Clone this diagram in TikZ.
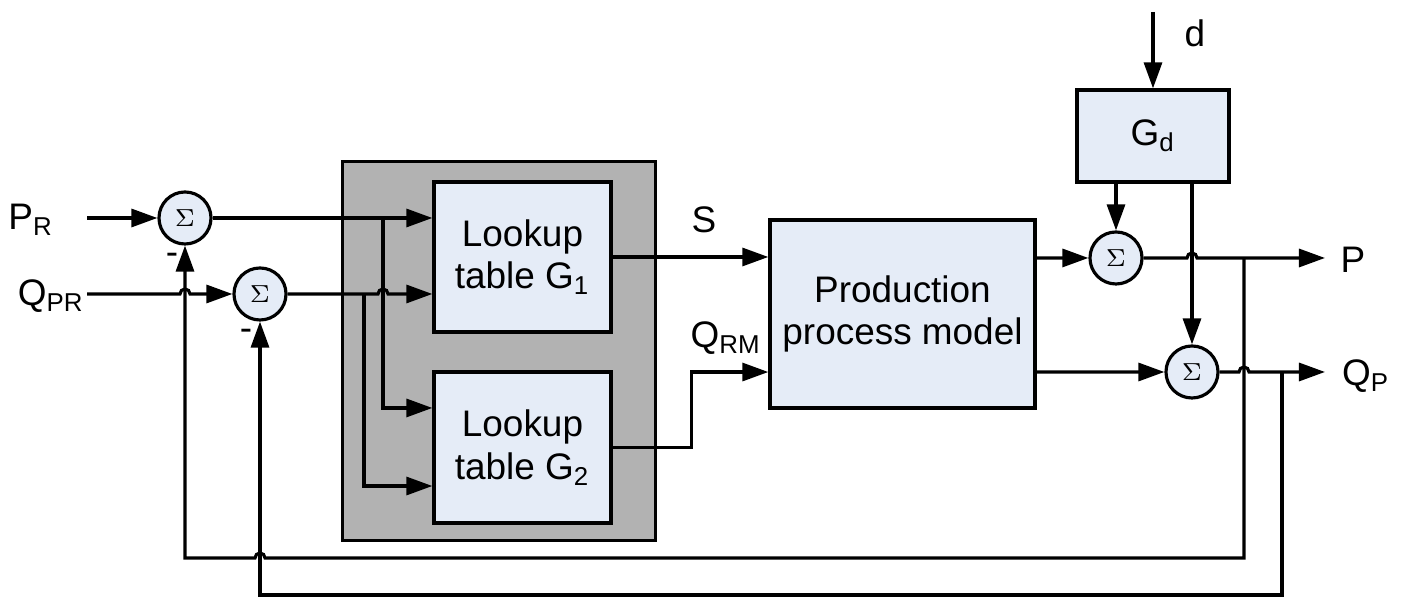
\documentclass[tikz,border=0pt]{standalone}
\usepackage{fontspec}
\setmainfont{Liberation Sans}
\usetikzlibrary{arrows.meta}
\usetikzlibrary{positioning}

\definecolor{blockfill}{RGB}{229,236,247}
\definecolor{shadefill}{RGB}{178,178,178}

\begin{document}
\begin{tikzpicture}[x=0.01cm,y=-0.01cm,line width=0.9pt,
    block/.style={draw,fill=blockfill,align=center,inner sep=0pt},
    sumnode/.style={circle,draw,fill=blockfill,minimum size=0.52cm,inner sep=0pt,font=\fontsize{7}{8}\selectfont},
    flow/.style={-{Triangle[length=0.26cm,width=0.18cm]}},
    lbl/.style={inner sep=0pt},
    font=\fontsize{10.5}{12.2}\selectfont]
    \useasboundingbox (0,0) rectangle (1402,598);

    % draws blocks
    \node[draw,fill=shadefill,minimum width=3.12cm,minimum height=3.78cm] (lut) at (499,351) {};
    \node[block,minimum width=1.77cm,minimum height=1.50cm] (g1) at (522.5,257) {Lookup\\table G\textsubscript{1}};
    \node[block,minimum width=1.77cm,minimum height=1.51cm] (g2) at (522.5,447.5) {Lookup\\table G\textsubscript{2}};
    \node[block,minimum width=2.65cm,minimum height=1.88cm] (prod) at (902.5,314) {Production\\process model};
    \node[block,minimum width=1.52cm,minimum height=0.92cm] (gd) at (1153,136) {G\textsubscript{d}};

    % draws summing junctions
    \node[sumnode] (s1) at (185,218) {$\Sigma$};
    \node[sumnode] (s2) at (260,294) {$\Sigma$};
    \node[sumnode] (s3) at (1116,258) {$\Sigma$};
    \node[sumnode] (s4) at (1192,372) {$\Sigma$};

    % free ends
    \coordinate (pin) at (87,218);
    \coordinate (qin) at (87,294);
    \coordinate (din) at (1153,12);
    \coordinate (pout) at (1325,258);
    \coordinate (qout) at (1325,372);

    % draws connectors
    \draw[flow] (pin) -- (s1);
    \draw[flow] (qin) -- (180,294) arc[start angle=180,end angle=360,radius=5] -- (s2);
    \draw[flow] (s1.east) -- (s1.east -| g1.west);
    \draw[flow] (383,218) |- ([yshift=0.395cm]g2.west);
    \draw[flow] (s2.east) -- (378,294) arc[start angle=180,end angle=360,radius=5] -- (s2.east -| g1.west);
    \draw[flow] (364,294) |- ([yshift=-0.385cm]g2.west);
    \draw[flow] (g1.east) -- (g1.east -| prod.west);
    \draw[flow] (g2.east) -- ++(79,0) |- ([yshift=-0.58cm]prod.west);
    \draw[flow] ([yshift=0.56cm]prod.east) -- (s3);
    \draw[flow] ([yshift=-0.58cm]prod.east) -- (s4);
    \draw[flow] (din) -- (gd.north);
    \draw[flow] (gd.south -| s3.north) -- (s3.north);
    \draw[flow] (gd.south -| s4.north) -- (s4.north);
    \draw[flow] (s3.east) -- (1187,258) arc[start angle=180,end angle=360,radius=5] -- (pout);
    \draw[flow] (s4.east) -- (1239,372) arc[start angle=180,end angle=360,radius=5] -- (qout);

    % draws feedback loops
    \draw[flow] (1244,258) -- (1244,558) -- (265,558) arc[start angle=0,end angle=-180,radius=5] -- (185,558) -- (s1.south);
    \draw[flow] (1282,372) -- (1282,595) -- (260,595) -- (s2.south);

    % labels signals
    \node[lbl] (lpr) at (31,220) {P\textsubscript{R}};
    \node[lbl] (lqpr) at (51,296) {Q\textsubscript{PR}};
    \node[lbl] (lm1) at (172,259) {-};
    \node[lbl] (lm2) at (246,335) {-};
    \node[lbl] (ls) at (704,220) {S};
    \node[lbl] (lqrm) at (726,338) {Q\textsubscript{RM}};
    \node[lbl] (ld) at (1195,33) {d};
    \node[lbl] (lp) at (1353,260) {P};
    \node[lbl] (lqp) at (1366,376) {Q\textsubscript{P}};
\end{tikzpicture}
\end{document}
